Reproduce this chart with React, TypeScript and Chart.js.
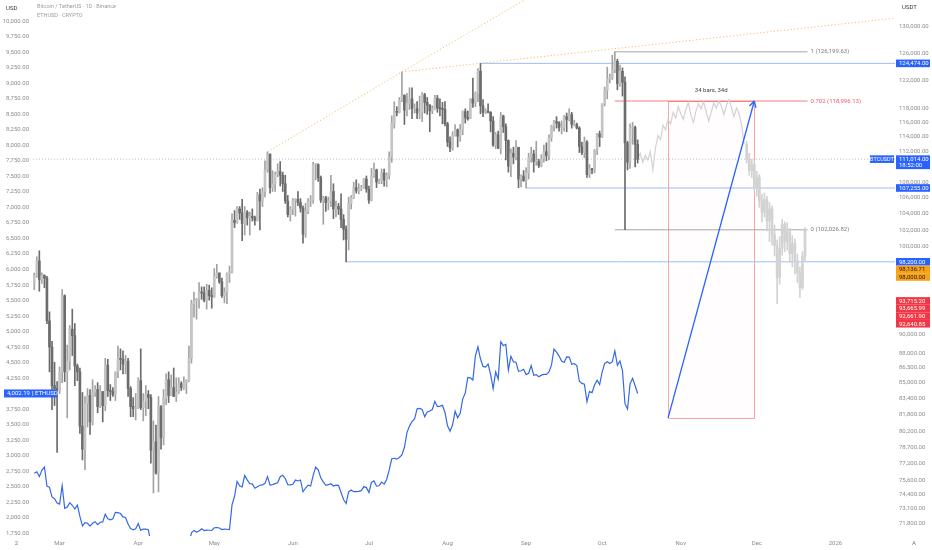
import React, { useEffect, useRef } from 'react';
import { Chart, registerables } from 'chart.js';

Chart.register(...registerables);

// ---------- time axis ----------
const START_DATE = '2025-02-19';
const DAY_COUNT = 340;
const MONTH_TICK_DATES = ['2025-03-01', '2025-04-01', '2025-05-01', '2025-06-01', '2025-07-01', '2025-08-01', '2025-09-01', '2025-10-01', '2025-11-01', '2025-12-01', '2026-01-01'];
const MONTH_TICK_LABELS = ['Mar', 'Apr', 'May', 'Jun', 'Jul', 'Aug', 'Sep', 'Oct', 'Nov', 'Dec', '2026'];

// ---------- price axes ----------
const LEFT_TICKS = [10000, 9750, 9500, 9250, 9000, 8750, 8500, 8250, 8000, 7750, 7500, 7250, 7000, 6750, 6500, 6250, 6000, 5750, 5500, 5250, 5000, 4750, 4500, 4250, 4000, 3750, 3500, 3250, 3000, 2750, 2500, 2250, 2000, 1750];
const RIGHT_TICKS = [130000, 126000, 122000, 118000, 116000, 114000, 112000, 108000, 106000, 104000, 102000, 100000, 90000, 88000, 86500, 85000, 83400, 81800, 80200, 78700, 77200, 75600, 74400, 73100, 71800];
const LEFT_MIN = 1705;
const LEFT_MAX = 10343;
const RIGHT_MIN = 70767;
const RIGHT_MAX = 134262;

// ---------- BTCUSDT daily candles (thousands), 19 Feb – 15 Oct 2025 ----------
// crypto trades 24/7, so each daily candle opens at the previous close
const BTC_FIRST_OPEN_K = 95.6;
const BTC_CLOSE_K = [
  96.6, 98.3, 96.1, 96.6, 96.3, 91.5, 88.7, 84.7, 84.4, 84.3,
  86.1, 94.3, 86.1, 87.2, 90.6, 89.9, 86.7, 86.1, 80.7, 78.5, 82.9, 83.7, 81.1, 84.0, 84.3, 82.6, 84.1, 82.7, 86.8, 84.2, 84.1, 83.8, 86.1, 87.5, 87.4, 86.9, 87.2, 84.4, 82.6, 82.4, 82.5,
  85.2, 82.5, 83.1, 83.8, 83.5, 78.4, 79.2, 76.3, 82.6, 79.6, 83.4, 85.3, 83.7, 84.5, 83.6, 84.0, 84.9, 84.5, 85.0, 85.2, 87.5, 93.4, 93.7, 93.9, 94.7, 94.6, 93.8, 94.9, 94.3, 94.2,
  96.5, 96.9, 95.9, 94.3, 94.7, 96.8, 97.0, 103.2, 102.9, 104.6, 104.1, 102.8, 104.2, 103.5, 103.7, 103.5, 103.2, 106.4, 105.6, 106.8, 109.6, 111.7, 107.3, 107.8, 109.0, 109.4, 108.9, 107.8, 105.6, 103.9, 104.6,
  105.7, 105.8, 105.4, 104.7, 101.5, 104.3, 105.6, 105.7, 110.3, 110.3, 108.6, 105.7, 106.0, 105.4, 105.6, 106.8, 104.6, 104.9, 104.6, 103.3, 102.1, 100.9, 105.3, 106.0, 107.3, 106.9, 107.1, 107.3, 108.4, 107.1,
  105.7, 108.8, 109.6, 108.0, 108.2, 109.2, 108.3, 108.9, 111.3, 115.9, 117.5, 117.4, 119.1, 119.8, 117.7, 118.7, 119.3, 117.9, 117.9, 117.3, 117.4, 119.9, 118.8, 118.4, 117.6, 117.9, 119.4, 118.0, 117.9, 117.8, 115.8,
  113.3, 112.5, 114.2, 115.0, 114.1, 115.0, 117.5, 116.7, 116.5, 119.3, 118.7, 120.1, 123.3, 118.3, 117.4, 117.5, 117.4, 116.2, 112.9, 114.3, 112.5, 116.9, 115.4, 113.5, 110.1, 111.8, 111.3, 112.6, 108.4, 108.8, 108.2,
  109.2, 111.2, 111.7, 110.7, 110.7, 110.2, 111.1, 112.0, 111.5, 113.9, 115.5, 116.1, 115.9, 115.3, 115.3, 116.8, 116.4, 117.1, 115.7, 115.7, 115.2, 112.7, 111.9, 113.3, 109.0, 109.7, 109.6, 112.2, 114.4, 114.0,
  118.6, 120.5, 122.2, 122.4, 123.5, 124.8, 121.5, 123.3, 121.7, 113.2, 110.6, 115.2, 115.3, 113.0, 111.014,
];
const BTC_HIGH_K = [
  96.9, 98.8, 99.5, 96.9, 96.7, 96.5, 92.5, 89.3, 87.1, 85.1,
  86.6, 95.0, 94.4, 88.9, 91.0, 92.8, 91.2, 86.9, 86.5, 84.0, 83.6, 84.4, 84.3, 85.3, 84.7, 85.0, 84.7, 84.0, 87.5, 87.4, 84.8, 84.5, 86.1, 88.8, 88.5, 88.3, 87.8, 87.5, 84.6, 83.5, 83.9,
  85.5, 88.5, 83.9, 84.7, 84.2, 83.8, 81.2, 80.8, 83.6, 82.7, 84.3, 85.9, 86.1, 85.8, 86.5, 85.5, 85.5, 85.1, 85.6, 85.3, 88.8, 93.8, 94.7, 94.0, 95.8, 95.3, 95.3, 95.6, 95.5, 95.2,
  97.4, 97.9, 96.9, 96.3, 95.2, 96.9, 97.7, 104.0, 104.4, 104.9, 104.9, 105.8, 104.9, 104.4, 104.2, 104.6, 103.7, 106.7, 107.1, 107.3, 110.8, 111.98, 111.3, 109.5, 109.3, 110.4, 110.7, 109.3, 108.9, 106.3, 104.9,
  105.9, 105.9, 106.8, 105.9, 105.0, 105.3, 105.9, 106.3, 110.6, 110.4, 110.4, 108.8, 106.2, 106.2, 106.1, 108.9, 107.8, 105.6, 105.3, 106.5, 103.9, 102.5, 106.1, 106.3, 108.0, 108.3, 107.8, 107.6, 108.5, 108.8,
  107.5, 109.8, 110.5, 109.7, 108.4, 109.7, 109.7, 109.2, 111.99, 116.9, 118.9, 118.2, 119.5, 123.2, 119.9, 120.1, 120.9, 120.9, 118.6, 118.9, 119.7, 120.2, 120.1, 119.5, 118.5, 118.3, 119.8, 119.8, 119.3, 118.8, 118.9,
  116.0, 114.0, 114.7, 115.7, 115.1, 115.7, 117.6, 117.9, 117.6, 119.3, 122.3, 120.3, 123.7, 124.47, 119.2, 117.9, 118.6, 117.5, 116.8, 114.6, 114.8, 117.4, 117.0, 115.8, 113.6, 112.4, 112.6, 113.5, 112.6, 108.95, 109.5,
  109.9, 111.8, 112.6, 112.2, 113.4, 111.0, 111.6, 112.9, 113.2, 114.3, 115.6, 116.3, 116.8, 116.1, 116.2, 116.99, 117.3, 117.9, 117.4, 116.3, 115.9, 115.4, 113.3, 113.99, 113.5, 110.3, 109.8, 112.3, 114.5, 114.8,
  118.6, 121.0, 123.9, 122.9, 125.7, 126.2, 125.1, 124.2, 123.8, 122.5, 113.4, 115.8, 116.0, 115.5, 113.6,
];
const BTC_LOW_K = [
  95.0, 96.4, 94.8, 95.7, 95.2, 91.2, 86.1, 82.3, 82.7, 78.2,
  83.9, 85.0, 85.1, 81.5, 86.3, 87.8, 84.7, 85.2, 80.0, 77.5, 76.6, 80.6, 79.9, 80.8, 83.6, 82.0, 82.5, 81.1, 82.2, 83.6, 83.2, 83.6, 83.2, 85.5, 86.3, 85.9, 85.9, 83.6, 81.6, 81.6, 81.3,
  82.4, 82.3, 81.2, 81.7, 82.4, 77.2, 74.5, 76.2, 74.6, 78.5, 78.9, 82.8, 83.0, 83.7, 83.6, 83.1, 83.9, 84.2, 84.3, 83.9, 85.1, 87.0, 91.9, 91.7, 92.9, 93.9, 93.6, 92.8, 93.8, 92.9,
  94.1, 96.3, 95.7, 94.1, 93.5, 93.4, 95.8, 96.9, 102.3, 102.8, 103.3, 100.7, 101.4, 102.6, 101.4, 103.1, 102.6, 103.1, 102.0, 104.9, 106.1, 109.3, 106.6, 106.8, 106.8, 108.7, 107.5, 106.8, 105.3, 103.6, 103.1,
  103.9, 103.7, 105.0, 104.2, 100.4, 101.1, 104.0, 104.9, 105.3, 108.3, 108.1, 105.4, 102.7, 104.3, 104.5, 104.9, 103.4, 103.6, 103.9, 102.3, 100.8, 98.2, 99.6, 104.6, 105.9, 106.6, 106.5, 106.9, 107.2, 106.7,
  105.3, 105.6, 108.6, 107.3, 107.8, 107.8, 107.5, 107.4, 108.4, 110.6, 115.2, 116.9, 117.3, 118.9, 115.7, 116.9, 117.8, 116.5, 117.3, 116.5, 116.5, 116.1, 117.3, 117.1, 114.7, 117.2, 117.8, 117.4, 116.9, 115.8, 115.5,
  112.7, 112.0, 112.2, 114.1, 112.65, 113.4, 114.3, 115.9, 116.3, 116.5, 118.1, 118.2, 118.9, 117.2, 116.8, 117.2, 117.3, 114.7, 112.7, 112.4, 112.4, 111.7, 114.6, 110.9, 109.3, 108.7, 110.4, 110.9, 107.3, 107.4, 108.1,
  107.255, 108.4, 110.6, 109.3, 110.2, 109.9, 110.0, 110.6, 110.8, 110.9, 113.4, 114.8, 115.2, 114.8, 114.4, 114.8, 114.7, 116.2, 115.2, 115.5, 115.1, 111.9, 111.6, 111.2, 108.6, 108.6, 109.1, 109.2, 111.6, 112.7,
  113.9, 118.3, 119.3, 121.6, 122.1, 123.1, 120.6, 121.1, 119.7, 102.03, 109.6, 109.8, 113.0, 110.0, 110.5,
];

// ---------- projected (ghost) path ----------
const GHOST_LINE_START = '2025-10-15';
const GHOST_LINE_K = [
  111.0, 111.8, 110.6, 111.5, 110.9, 112.0, 109.6, 112.5, 114.2, 113.6, 115.6, 115.0, 116.4, 115.8, 117.4, 116.6, 118.2, 117.2, 116.4, 117.8, 118.8, 117.0,
  116.0, 117.6, 118.6, 117.9, 118.9, 117.5, 116.2, 117.4, 118.7, 118.0, 119.0, 118.3, 117.1, 118.4, 119.2, 118.1, 116.8, 118.0, 117.2, 115.6, 113.0,
];
const GHOST_CANDLE_START = '2025-11-27';
const GHOST_CLOSE_K = [111.0, 109.5, 110.3, 107.4, 108.6, 105.6, 104.2, 105.8, 103.1, 104.6, 101.4, 100.1, 96.4, 99.8, 102.7, 100.6, 101.8, 99.2, 100.4, 98.3, 96.9, 95.2, 98.8, 101.9];
const GHOST_HIGH_K = [113.4, 111.8, 111.0, 110.8, 109.4, 109.0, 106.4, 106.6, 106.2, 105.4, 105.0, 102.6, 100.8, 101.2, 103.3, 103.0, 102.9, 102.2, 101.3, 100.9, 99.1, 97.6, 99.4, 102.3];
const GHOST_LOW_K = [110.5, 108.9, 108.6, 106.9, 106.2, 104.8, 103.0, 103.6, 101.9, 100.6, 100.2, 98.9, 93.4, 95.6, 99.0, 99.4, 99.6, 98.1, 97.6, 96.8, 95.8, 94.1, 95.0, 98.2];

// ---------- ETHUSD daily close, 19 Feb – 15 Oct 2025 (left axis) ----------
const ETH_CLOSE = [
  2715, 2740, 2662, 2764, 2818, 2511, 2490, 2334, 2306, 2237,
  2218, 2518, 2150, 2171, 2240, 2200, 2140, 2203, 2020, 1866, 1921, 1910, 1863, 1910, 1935, 1887, 1927, 1932, 2055, 1983, 1967, 1982, 2086, 2081, 2067, 2013, 2004, 1897, 1827, 1806, 1822,
  1905, 1796, 1817, 1816, 1806, 1580, 1553, 1471, 1669, 1522, 1567, 1645, 1593, 1623, 1588, 1578, 1585, 1590, 1613, 1587, 1580, 1756, 1795, 1770, 1786, 1820, 1792, 1799, 1798, 1794,
  1838, 1842, 1834, 1808, 1816, 1814, 1810, 2206, 2345, 2583, 2513, 2495, 2680, 2610, 2547, 2545, 2475, 2500, 2523, 2528, 2553, 2663, 2526, 2534, 2550, 2564, 2660, 2683, 2632, 2532, 2528,
  2539, 2606, 2592, 2608, 2417, 2478, 2525, 2510, 2681, 2815, 2772, 2643, 2578, 2523, 2534, 2547, 2510, 2525, 2522, 2405, 2294, 2228, 2415, 2447, 2419, 2420, 2424, 2436, 2501, 2485,
  2406, 2570, 2593, 2508, 2515, 2573, 2541, 2616, 2769, 2950, 2958, 2943, 2971, 3012, 3135, 3371, 3476, 3550, 3590, 3755, 3760, 3746, 3628, 3705, 3720, 3743, 3876, 3792, 3798, 3811, 3695,
  3481, 3392, 3498, 3715, 3610, 3683, 3915, 4008, 4259, 4254, 4219, 4607, 4753, 4561, 4438, 4428, 4475, 4310, 4079, 4348, 4235, 4836, 4773, 4794, 4377, 4600, 4510, 4505, 4359, 4368, 4392,
  4306, 4327, 4450, 4295, 4306, 4272, 4297, 4309, 4310, 4348, 4459, 4715, 4668, 4605, 4524, 4502, 4590, 4587, 4471, 4483, 4453, 4199, 4165, 4150, 3869, 4032, 4015, 4139, 4215, 4145,
  4349, 4487, 4513, 4485, 4513, 4687, 4455, 4525, 4369, 3837, 3750, 4155, 4246, 4126, 4002.19,
];

// ---------- drawings ----------
const H_LINE_DATES = ['2025-08-14', '2025-09-01', '2025-06-22'];
const H_LINE_VALUES = [124474, 107255, 98200];
const LAST_PRICE = 111014;
const LAST_PRICE_COUNTDOWN = '18:52:00';
const ETH_LAST = 4002.19;

const TREND_A_DATES = ['2025-05-22', '2025-07-14', '2025-09-08'];
const TREND_A_VALUES = [111980, 123218, 136100];
const TREND_B_DATES = ['2025-07-14', '2026-01-24'];
const TREND_B_VALUES = [123218, 131360];

const FIB_START = '2025-10-06';
const FIB_END = '2025-12-21';
const FIB_HIGH = 126199.63;
const FIB_LOW = 102026.82;
const FIB_LEVELS = [1, 0.702, 0];

const RANGE_START = '2025-10-27';
const RANGE_END = '2025-11-30';
const RANGE_LOW = 81490;
const RANGE_HIGH = 118996.13;

const RIGHT_TAG_VALUES = [124474, 111014, 107255, 98200, 98136.71, 98000, 93715.2, 93665.99, 92661.9, 92640.85];
const RIGHT_TAG_KIND = ['blue', 'last', 'blue', 'blue', 'orange', 'orange', 'red', 'red', 'red', 'red'];

// ---------- styles ----------
const BLUE = '#2962ff';
const ORANGE = '#f7a21b';
const RED = '#f23645';
const UP_BODY = '#c4c4c4';
const DOWN_BODY = '#6c6c6c';
const UP_WICK = '#a2a2a2';
const DOWN_WICK = '#6c6c6c';
const GHOST = '#d2d2d2';
const AXIS_TEXT = '#8d8d8d';
const FONT = 'Roboto, "Noto Sans", sans-serif';

const DAY_MS = 86400000;
const dayIndex = (iso: string) => Math.round((Date.parse(iso + 'T00:00:00Z') - Date.parse(START_DATE + 'T00:00:00Z')) / DAY_MS);
const fmt = (v: number) => v.toLocaleString('en-US', { minimumFractionDigits: 2, maximumFractionDigits: 2 });

type Candle = { i: number; o: number; h: number; l: number; c: number };

function buildCandles(start: number, firstOpen: number, close: number[], high: number[], low: number[]): Candle[] {
  return close.map((c, k) => ({
    i: start + k,
    o: (k === 0 ? firstOpen : close[k - 1]) * 1000,
    h: high[k] * 1000,
    l: low[k] * 1000,
    c: c * 1000,
  }));
}

const realCandles = buildCandles(0, BTC_FIRST_OPEN_K, BTC_CLOSE_K, BTC_HIGH_K, BTC_LOW_K);
const ghostCandles = buildCandles(dayIndex(GHOST_CANDLE_START), GHOST_LINE_K[GHOST_LINE_K.length - 1], GHOST_CLOSE_K, GHOST_HIGH_K, GHOST_LOW_K);

const wickData = (cs: Candle[]) => cs.map((k) => ({ x: k.i, y: [Math.min(k.l, k.o, k.c), Math.max(k.h, k.o, k.c)] }));
const bodyData = (cs: Candle[]) => cs.map((k) => ({ x: k.i, y: [k.o, k.c] }));

const lineDs = (dates: string[], values: number[], color: string, width: number, order: number, dash: number[] = [], axis = 'yR') => ({
  type: 'line' as const,
  yAxisID: axis,
  data: dates.map((d, k) => ({ x: dayIndex(d), y: values[k] })),
  borderColor: color,
  borderWidth: width,
  borderDash: dash,
  pointRadius: 0,
  tension: 0,
  fill: false,
  order,
});

const X_MIN = -0.5;
const X_MAX = DAY_COUNT - 0.5;

function drawTag(ctx: CanvasRenderingContext2D, x: number, y: number, w: number, h: number, bg: string) {
  ctx.fillStyle = bg;
  ctx.fillRect(x, y, w, h);
}

const overlayPlugin = {
  id: 'overlay',
  beforeDatasetsDraw(chart: any) {
    const { ctx, scales } = chart;
    const x = scales.x;
    const yR = scales.yR;
    const x0 = x.getPixelForValue(dayIndex(RANGE_START));
    const x1 = x.getPixelForValue(dayIndex(RANGE_END));
    const yT = yR.getPixelForValue(RANGE_HIGH);
    const yB = yR.getPixelForValue(RANGE_LOW);
    ctx.save();
    ctx.fillStyle = 'rgba(242,54,69,0.012)';
    ctx.fillRect(x0, yT, x1 - x0, yB - yT);
    ctx.strokeStyle = 'rgba(242,54,69,0.45)';
    ctx.lineWidth = 1;
    ctx.strokeRect(Math.round(x0) + 0.5, Math.round(yT) + 0.5, Math.round(x1 - x0), Math.round(yB - yT));
    ctx.restore();
  },
  afterDatasetsDraw(chart: any) {
    const { ctx, scales, chartArea } = chart;
    const x = scales.x;
    const yR = scales.yR;
    const yL = scales.yL;
    ctx.save();

    // arrow head
    const ax0 = x.getPixelForValue(dayIndex(RANGE_START));
    const ay0 = yR.getPixelForValue(RANGE_LOW);
    const ax1 = x.getPixelForValue(dayIndex(RANGE_END));
    const ay1 = yR.getPixelForValue(RANGE_HIGH);
    const ang = Math.atan2(ay1 - ay0, ax1 - ax0);
    ctx.strokeStyle = BLUE;
    ctx.lineWidth = 1.3;
    ctx.beginPath();
    for (const s of [-1, 1]) {
      const a = ang + Math.PI + s * 0.5;
      ctx.moveTo(ax1, ay1);
      ctx.lineTo(ax1 + 7 * Math.cos(a), ay1 + 7 * Math.sin(a));
    }
    ctx.stroke();

    // date range label
    const bars = dayIndex(RANGE_END) - dayIndex(RANGE_START);
    ctx.font = `6px ${FONT}`;
    ctx.fillStyle = '#444';
    ctx.textAlign = 'center';
    ctx.textBaseline = 'middle';
    ctx.fillText(`${bars} bars, ${bars}d`, (ax0 + ax1) / 2, ay1 - 11);

    // fib labels
    const fx = x.getPixelForValue(dayIndex(FIB_END)) + 3;
    ctx.textAlign = 'left';
    FIB_LEVELS.forEach((lv) => {
      const v = FIB_LOW + lv * (FIB_HIGH - FIB_LOW);
      ctx.fillStyle = lv === 0.702 ? '#ef5a6a' : '#7d7d7d';
      ctx.fillText(`${lv} (${fmt(v)})`, fx, yR.getPixelForValue(v));
    });

    // right axis price tags
    const tagL = chartArea.right + 1;
    const tagW = chart.width - 2 - tagL;
    const lineH = 7.6;
    let prevBottom = -Infinity;
    ctx.font = `6px ${FONT}`;
    RIGHT_TAG_VALUES.forEach((v, k) => {
      const kind = RIGHT_TAG_KIND[k];
      const lines = kind === 'last' ? 2 : 1;
      let cy = yR.getPixelForValue(v);
      if (cy - lineH / 2 < prevBottom) cy = prevBottom + lineH / 2;
      const top = cy - lineH / 2;
      const h = lineH + (lines - 1) * 6.2;
      const bg = kind === 'orange' ? ORANGE : kind === 'red' ? RED : BLUE;
      drawTag(ctx, tagL, top, tagW, h, bg);
      ctx.fillStyle = kind === 'orange' ? '#2a1a00' : '#ffffff';
      ctx.textAlign = 'left';
      ctx.textBaseline = 'middle';
      ctx.fillText(fmt(v), tagL + 3, cy + 0.3);
      if (kind === 'last') {
        ctx.fillText(LAST_PRICE_COUNTDOWN, tagL + 3, cy + 6.5);
        const nameW = 24;
        drawTag(ctx, chartArea.right - 1 - nameW, top, nameW, lineH, BLUE);
        ctx.fillStyle = '#ffffff';
        ctx.textAlign = 'center';
        ctx.font = `5.5px ${FONT}`;
        ctx.fillText('BTCUSDT', chartArea.right - 1 - nameW / 2, cy + 0.3);
        ctx.font = `6px ${FONT}`;
      }
      prevBottom = top + h;
    });

    // ETH tag on left axis
    const ey = yL.getPixelForValue(ETH_LAST);
    drawTag(ctx, 4, ey - 4, 53, 8, BLUE);
    ctx.fillStyle = '#ffffff';
    ctx.textAlign = 'left';
    ctx.textBaseline = 'middle';
    ctx.font = `6px ${FONT}`;
    ctx.fillText(fmt(ETH_LAST), 7, ey + 0.3);
    ctx.fillRect(32.5, ey - 2.5, 0.6, 5);
    ctx.fillText('ETHUSD', 35, ey + 0.3);

    // headers
    ctx.fillStyle = '#3a3a3a';
    ctx.font = `6px ${FONT}`;
    ctx.textAlign = 'left';
    ctx.fillText('USD', 6, 8);
    ctx.fillText('USDT', chartArea.right + 7, 7);
    ctx.fillStyle = '#9c9c9c';
    ctx.font = `5.5px ${FONT}`;
    ctx.fillText('Bitcoin / TetherUS · 1D · Binance', 37, 7);
    ctx.fillText('ETHUSD · CRYPTO', 37, 16);

    // bottom corner glyphs
    ctx.fillStyle = '#777';
    ctx.font = `6px ${FONT}`;
    ctx.textAlign = 'center';
    ctx.fillText('2', 16.5, 543.5);
    ctx.fillText('A', chart.width - 18, 543.5);
    ctx.restore();
  },
};

export default function App() {
  const ref = useRef<HTMLCanvasElement>(null);

  useEffect(() => {
    document.body.style.margin = '0';
    document.body.style.background = '#ffffff';
    Chart.defaults.font.family = FONT;

    const upOf = (cs: Candle[]) => cs.map((k) => k.c >= k.o);
    const realUp = upOf(realCandles);

    const datasets: any[] = [
      // arrow (top-most)
      lineDs([RANGE_START, RANGE_END], [RANGE_LOW, RANGE_HIGH], BLUE, 1.3, 0),
      {
        type: 'bar', yAxisID: 'yR', data: bodyData(realCandles),
        backgroundColor: realUp.map((u) => (u ? UP_BODY : DOWN_BODY)),
        barThickness: 2, minBarLength: 1, grouped: false, order: 1,
      },
      {
        type: 'bar', yAxisID: 'yR', data: wickData(realCandles),
        backgroundColor: realUp.map((u) => (u ? UP_WICK : DOWN_WICK)),
        barThickness: 1, grouped: false, order: 2,
      },
      {
        type: 'bar', yAxisID: 'yR', data: bodyData(ghostCandles),
        backgroundColor: GHOST, barThickness: 2, minBarLength: 1, grouped: false, order: 3,
      },
      {
        type: 'bar', yAxisID: 'yR', data: wickData(ghostCandles),
        backgroundColor: GHOST, barThickness: 1, grouped: false, order: 4,
      },
      {
        type: 'line', yAxisID: 'yR',
        data: GHOST_LINE_K.map((v, k) => ({ x: dayIndex(GHOST_LINE_START) + k, y: v * 1000 })),
        borderColor: GHOST, borderWidth: 1.2, pointRadius: 0, tension: 0, fill: false, order: 5,
      },
      {
        type: 'line', yAxisID: 'yL',
        data: ETH_CLOSE.map((v, k) => ({ x: k, y: v })),
        borderColor: '#3569e4', borderWidth: 1.2, pointRadius: 0, tension: 0, fill: false, order: 6,
      },
      ...FIB_LEVELS.map((lv) =>
        lineDs([FIB_START, FIB_END], [FIB_LOW + lv * (FIB_HIGH - FIB_LOW), FIB_LOW + lv * (FIB_HIGH - FIB_LOW)],
          lv === 0.702 ? 'rgba(242,54,69,0.65)' : '#a6a6a6', 1, 7)),
      ...H_LINE_VALUES.map((v, k) => ({
        type: 'line', yAxisID: 'yR',
        data: [{ x: dayIndex(H_LINE_DATES[k]), y: v }, { x: X_MAX, y: v }],
        borderColor: '#9dbcf5', borderWidth: 1, pointRadius: 0, tension: 0, fill: false, order: 8,
      })),
      lineDs(TREND_A_DATES, TREND_A_VALUES, 'rgba(240,175,70,0.8)', 1, 9, [1.2, 2.2]),
      lineDs(TREND_B_DATES, TREND_B_VALUES, 'rgba(240,175,70,0.8)', 1, 9, [1.2, 2.2]),
      {
        type: 'line', yAxisID: 'yR',
        data: [{ x: X_MIN, y: LAST_PRICE }, { x: X_MAX, y: LAST_PRICE }],
        borderColor: '#bdbdbd', borderWidth: 1, borderDash: [1, 2], pointRadius: 0, fill: false, order: 10,
      },
    ];

    const tickFont = { size: 6, family: FONT };
    const chart = new Chart(ref.current as HTMLCanvasElement, {
      type: 'bar',
      data: { datasets },
      plugins: [overlayPlugin],
      options: {
        animation: false,
        responsive: false,
        devicePixelRatio: 1,
        events: [],
        layout: { autoPadding: false, padding: 0 },
        plugins: { legend: { display: false }, tooltip: { enabled: false } },
        scales: {
          x: {
            type: 'linear', min: X_MIN, max: X_MAX, offset: false, bounds: 'data',
            grid: { display: false, drawTicks: false }, border: { display: false },
            afterBuildTicks: (s: any) => { s.ticks = MONTH_TICK_DATES.map((d) => ({ value: dayIndex(d) })); },
            afterFit: (s: any) => { s.height = 14; s.paddingLeft = 0; s.paddingRight = 0; },
            ticks: {
              autoSkip: false, maxRotation: 0, padding: 4, color: AXIS_TEXT, font: tickFont,
              callback: (_v: any, i: number) => MONTH_TICK_LABELS[i],
            },
          },
          yL: {
            type: 'linear', position: 'left', min: LEFT_MIN, max: LEFT_MAX, bounds: 'data',
            grid: { display: false, drawTicks: false }, border: { display: false },
            afterBuildTicks: (s: any) => { s.ticks = LEFT_TICKS.map((v) => ({ value: v })); },
            afterFit: (s: any) => { s.width = 33; s.paddingTop = 0; s.paddingBottom = 0; },
            ticks: { autoSkip: false, padding: 4, color: AXIS_TEXT, font: tickFont, callback: (v: any) => fmt(Number(v)) },
          },
          yR: {
            type: 'logarithmic', position: 'right', min: RIGHT_MIN, max: RIGHT_MAX, bounds: 'data',
            grid: { display: false, drawTicks: false }, border: { display: false },
            afterBuildTicks: (s: any) => { s.ticks = RIGHT_TICKS.map((v) => ({ value: v })); },
            afterFit: (s: any) => { s.width = 37; s.paddingTop = 0; s.paddingBottom = 0; },
            ticks: { autoSkip: false, padding: 4, color: AXIS_TEXT, font: tickFont, callback: (v: any) => fmt(Number(v)) },
          },
        },
      } as any,
    });
    return () => chart.destroy();
  }, []);

  return (
    <div style={{ width: 932, height: 550, background: '#ffffff' }}>
      <canvas ref={ref} width={932} height={550} style={{ display: 'block' }} />
    </div>
  );
}
